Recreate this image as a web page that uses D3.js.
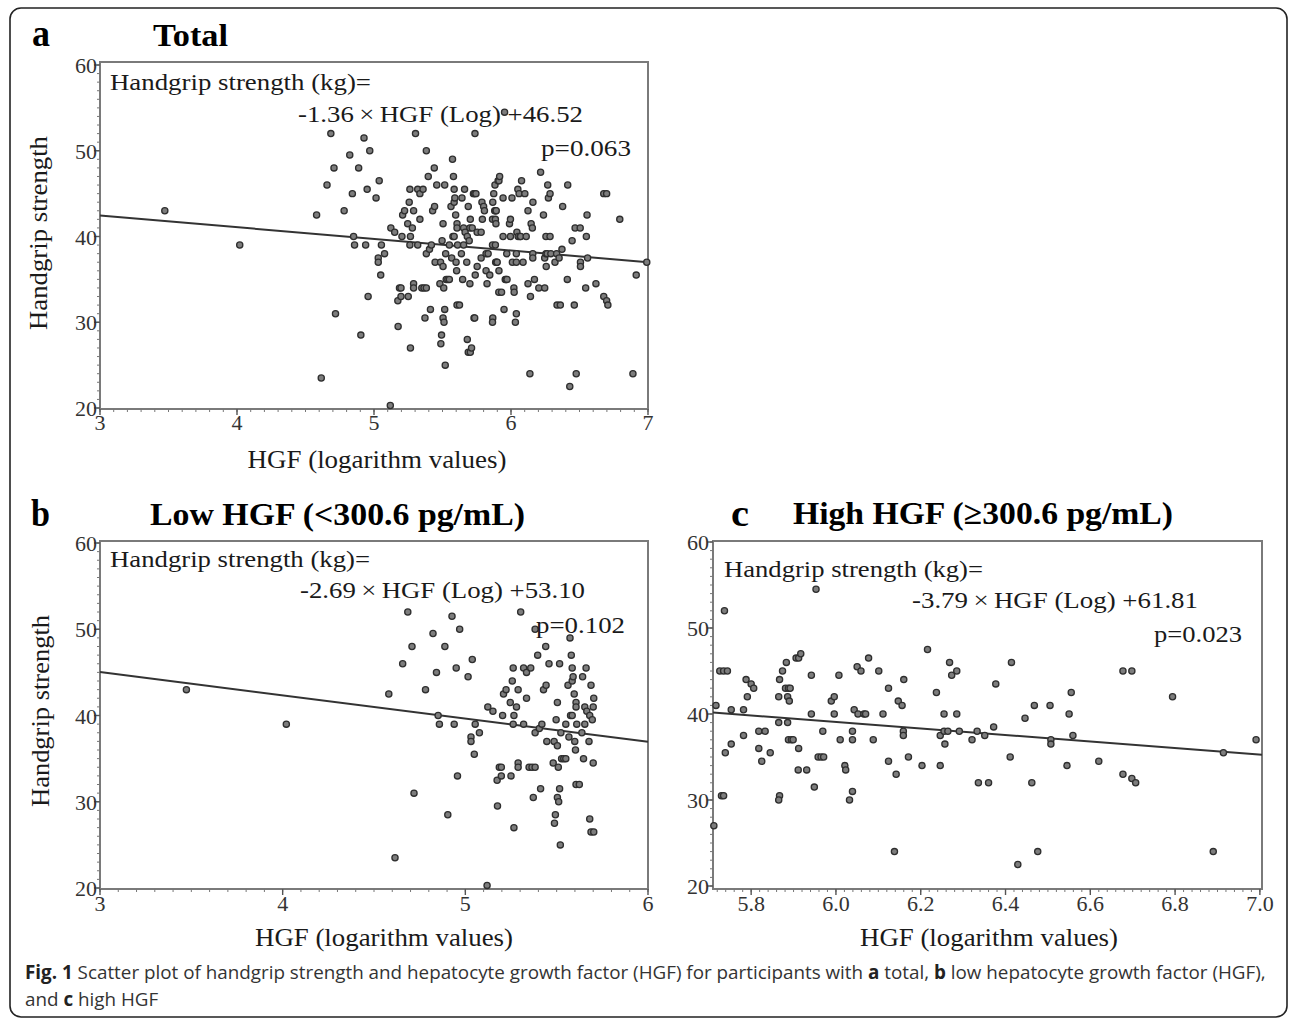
<!DOCTYPE html>
<html><head><meta charset="utf-8">
<script src="https://cdn.jsdelivr.net/npm/d3@7"></script>
<style>body{margin:0;background:#fff;} svg{display:block;}</style>
</head><body><svg id="fig" width="1290" height="1021"></svg>
<script>
// ---------- data ----------
const lowX = [3.473,4.02,4.581,4.615,4.657,4.685,4.708,4.719,4.782,4.823,
4.842,4.851,4.858,4.888,4.904,4.927,4.939,4.95,4.957,4.969,
5.015,5.031,5.031,5.038,5.049,5.054,5.077,5.119,5.123,5.151,
5.174,5.176,5.186,5.197,5.197,5.204,5.209,5.223,5.246,5.25,
5.257,5.262,5.262,5.266,5.266,5.28,5.289,5.289,5.289,5.303,
5.319,5.319,5.335,5.335,5.349,5.358,5.365,5.372,5.382,5.382,
5.382,5.396,5.405,5.412,5.419,5.428,5.44,5.442,5.446,5.458,
5.481,5.486,5.488,5.493,5.497,5.504,5.504,5.504,5.509,5.511,
5.516,5.516,5.52,5.523,5.527,5.539,5.55,5.55,5.562,5.567,
5.573,5.576,5.58,5.585,5.585,5.585,5.59,5.596,5.599,5.603,
5.606,5.606,5.606,5.624,5.61,5.638,5.642,5.647,5.654,5.654,
5.661,5.665,5.677,5.681,5.681,5.688,5.688,5.695,5.7,5.7,
5.703,5.703];
const lowY = [43,39,42.5,23.5,46,52,48,31,43,49.5,
45,40,39,48,28.5,51.5,39,45.5,33,50,
44.5,37.5,37,46.5,35.5,39,38,20.3,41,40.5,
32.5,29.5,34,34,33,40,42.5,43,41.5,33,
44,45.5,39,40,27,41,43,34.5,34,52,
39,45.5,45,42,34,45.5,34,30.5,38,34,
50,47,38.5,31.5,39,43,48,43.5,37,46,
34.5,37,27.5,28.5,39.5,41.5,36.5,30.5,34,30,
31.5,46,25,38,35,35,35,39,43.5,37.5,
49,40,47,45.5,44,40,44.5,42.5,37,36,
41.5,41,32,32,39,38,44.5,35,41,39,
45.5,40.5,37,40,28,43.5,26.5,39.5,34.5,41,
42,26.5];
const highX = [5.717,5.712,5.726,5.735,5.744,5.737,5.73,5.735,5.753,5.739,
5.753,5.782,5.782,5.788,5.791,5.8,5.806,5.818,5.833,5.818,
5.825,5.845,5.865,5.867,5.874,5.883,5.865,5.867,5.865,5.881,
5.888,5.892,5.886,5.89,5.886,5.888,5.895,5.899,5.912,5.906,
5.912,5.917,5.911,5.931,5.942,5.942,5.949,5.953,5.958,5.965,
5.971,5.969,5.989,5.996,5.996,6.007,6.01,6.021,6.023,6.032,
6.039,6.039,6.039,6.043,6.05,6.059,6.052,6.066,6.07,6.077,
6.088,6.101,6.111,6.124,6.124,6.142,6.138,6.147,6.156,6.16,
6.159,6.159,6.171,6.203,6.216,6.237,6.246,6.246,6.255,6.255,
6.257,6.264,6.268,6.273,6.285,6.285,6.291,6.321,6.333,6.336,
6.351,6.36,6.372,6.377,6.411,6.414,6.429,6.446,6.462,6.468,
6.476,6.505,6.507,6.507,6.545,6.55,6.555,6.559,6.62,6.677,
6.698,6.677,6.698,6.707,6.794,6.89,6.914,6.991];
const highY = [41,27,45,45,45,52,30.5,30.5,40.5,35.5,
36.5,40.5,37.5,44,42,43.5,43,38,38,36,
34.5,35.5,42,44,45,46,39,30.5,30,43,
43,43,42,41.5,39,37,37,37,36,46.5,
46.5,47,33.5,33.5,44.5,40,31.5,54.5,35,35,
35,38,41.5,42,40,44.5,37,34,33.5,30,
31,38,37,40.5,45.5,45,40,40,40,46.5,
37,45,40,43,34.5,33,24,41.5,41,44,
38,37.5,35,34,47.5,42.5,34,37.5,40,38,
36.5,38,46,44.5,45,40,38,37,38,32,
37.5,32,38.5,43.5,35,46,22.5,39.5,32,41,
24,41,37,36.5,34,40,42.5,37.5,34.5,45,
45,33,32.5,32,42,24,35.5,37];
const totalX = lowX.concat(highX);
const totalY = lowY.concat(highY);

const yTicks = [20,30,40,50,60];
const xTicksA = [3,4,5,6,7];
const xTicksB = [3,4,5,6];
const xTicksC = [5.8,6.0,6.2,6.4,6.6,6.8,7.0];
const slopes = [-1.36,-2.69,-3.79];
const intercepts = [46.52,53.10,61.81];
const pValues = ["0.063","0.102","0.023"];
const panelLetters = ["a","b","c"];
const panelTitles = ["Total","Low HGF (<300.6 pg/mL)","High HGF (\u2265300.6 pg/mL)"];
const xTitle = "HGF (logarithm values)";
const yTitle = "Handgrip strength";
const eqLead = "Handgrip strength (kg)=";

// ---------- layout ----------
const svg = d3.select("#fig");
const serif = "'Liberation Serif','Times New Roman',serif";
const txt = "#1a1a1a";

svg.append("rect").attr("x",10).attr("y",8).attr("width",1277).attr("height",1009)
  .attr("rx",11).attr("fill","none").attr("stroke","#222").attr("stroke-width",1.6);

const panels = [
 {i:0, x0:100, x1:648, y0:62, y1:409, yr:[408,65], dom:[3,7], ticks:xTicksA, minor:0.1, fmt:d3.format("d"),
  xs:totalX, ys:totalY,
  letter:{x:32, y:46, w:18}, title:{x:153, y:46, w:75},
  eq:[{x:110,y:90,w:261},{x:298,y:122,w:285},{x:541,y:156,w:90}],
  xt:{x:377, y:468, w:259}, yt:{x:47, y:233, w:194}, tickBase:430, ylabR:97},
 {i:1, x0:100, x1:648, y0:541, y1:889, yr:[888,543], dom:[3,6], ticks:xTicksB, minor:0.1, fmt:d3.format("d"),
  xs:lowX, ys:lowY,
  letter:{x:31, y:526, w:19}, title:{x:150, y:525, w:375},
  eq:[{x:110,y:567,w:260},{x:300,y:598,w:285},{x:536,y:633,w:89}],
  xt:{x:384, y:946, w:258}, yt:{x:49, y:711, w:192}, tickBase:911, ylabR:97},
 {i:2, x0:713, x1:1262, y0:541, y1:889, yr:[886,542], dom:[5.71,7.005], ticks:xTicksC, minor:0.02, fmt:d3.format(".1f"),
  xs:highX, ys:highY,
  letter:{x:731, y:526, w:18}, title:{x:793, y:524, w:380},
  eq:[{x:724,y:577,w:259},{x:912,y:608,w:286},{x:1154,y:642,w:88}],
  xt:{x:989, y:946, w:258}, yt:null, tickBase:911, ylabR:709}
];

panels.forEach(p => {
  const x = d3.scaleLinear().domain(p.dom).range([p.x0, p.x1]);
  const y = d3.scaleLinear().domain([20,60]).range(p.yr);
  const g = svg.append("g");

  g.append("rect").attr("x",p.x0).attr("y",p.y0).attr("width",p.x1-p.x0).attr("height",p.y1-p.y0)
    .attr("fill","none").attr("stroke","#7a7a7a").attr("stroke-width",2);

  const minors = d3.range(Math.ceil(p.dom[0]/p.minor-1e-6)*p.minor, p.dom[1]+1e-9, p.minor);
  g.selectAll(null).data(minors).join("line")
    .attr("x1",d=>x(d)).attr("x2",d=>x(d)).attr("y1",p.y1).attr("y2",p.y1+3)
    .attr("stroke","#777").attr("stroke-width",1);
  g.selectAll(null).data(d3.range(20,61,1)).join("line")
    .attr("x1",p.x0-3).attr("x2",p.x0).attr("y1",d=>y(d)).attr("y2",d=>y(d))
    .attr("stroke","#777").attr("stroke-width",1);
  g.selectAll(null).data(p.ticks).join("line")
    .attr("x1",d=>x(d)).attr("x2",d=>x(d)).attr("y1",p.y1).attr("y2",p.y1+6)
    .attr("stroke","#555").attr("stroke-width",1.4);
  g.selectAll(null).data(yTicks).join("line")
    .attr("x1",p.x0-6).attr("x2",p.x0).attr("y1",d=>y(d)).attr("y2",d=>y(d))
    .attr("stroke","#555").attr("stroke-width",1.4);

  g.selectAll(null).data(p.ticks).join("text")
    .attr("x",d=>x(d)).attr("y",p.tickBase).attr("text-anchor","middle")
    .attr("font-family",serif).attr("font-size",22).attr("fill","#333")
    .text(d=>p.fmt(d));
  g.selectAll(null).data(yTicks).join("text")
    .attr("x",p.ylabR).attr("y",d=>y(d)+8).attr("text-anchor","end")
    .attr("font-family",serif).attr("font-size",22).attr("fill","#333")
    .text(d=>d);

  const lineData = p.dom.map(v => [v, slopes[p.i]*v + intercepts[p.i]]);
  g.append("path").datum(lineData)
    .attr("d", d3.line().x(d=>x(d[0])).y(d=>y(d[1])))
    .attr("stroke","#333").attr("stroke-width",2).attr("fill","none");

  const pts = p.xs.map((v,k)=>[v,p.ys[k]]);
  g.selectAll(null).data(pts).join("circle")
    .attr("cx",d=>x(d[0])).attr("cy",d=>y(d[1])).attr("r",3.1)
    .attr("fill","#7d7d7d").attr("stroke","#2e2e2e").attr("stroke-width",1.3);

  const eqTexts = [eqLead,
    `${slopes[p.i].toFixed(2)}\u2009\u00d7\u2009HGF (Log) +${intercepts[p.i].toFixed(2)}`,
    `p=${pValues[p.i]}`];
  eqTexts.forEach((t,k) => {
    g.append("text").attr("x",p.eq[k].x).attr("y",p.eq[k].y)
      .attr("font-family",serif).attr("font-size",24).attr("fill",txt)
      .attr("textLength",p.eq[k].w).attr("lengthAdjust","spacingAndGlyphs")
      .text(t);
  });

  g.append("text").attr("x",p.letter.x).attr("y",p.letter.y)
    .attr("font-family",serif).attr("font-weight","bold").attr("font-size",38).attr("fill","#000")
    .attr("textLength",p.letter.w).attr("lengthAdjust","spacingAndGlyphs")
    .text(panelLetters[p.i]);
  g.append("text").attr("x",p.title.x).attr("y",p.title.y)
    .attr("font-family",serif).attr("font-weight","bold").attr("font-size",32).attr("fill","#000")
    .attr("textLength",p.title.w).attr("lengthAdjust","spacingAndGlyphs")
    .text(panelTitles[p.i]);

  g.append("text").attr("x",p.xt.x - p.xt.w/2).attr("y",p.xt.y)
    .attr("font-family",serif).attr("font-size",25).attr("fill",txt)
    .attr("textLength",p.xt.w).attr("lengthAdjust","spacingAndGlyphs")
    .text(xTitle);
  if (p.yt) {
    g.append("text").attr("transform",`translate(${p.yt.x},${p.yt.y}) rotate(-90)`)
      .attr("x",-p.yt.w/2).attr("y",0)
      .attr("font-family",serif).attr("font-size",25).attr("fill",txt)
      .attr("textLength",p.yt.w).attr("lengthAdjust","spacingAndGlyphs")
      .text(yTitle);
  }
});

// ---------- caption ----------
const sans = "'Open Sans','Noto Sans',sans-serif";
const cap = svg.append("g").attr("font-family",sans).attr("font-size",19).attr("fill","#333");
const l1 = cap.append("text").attr("x",25).attr("y",979);
l1.append("tspan").attr("font-weight","bold").attr("fill","#222").text("Fig. 1");
l1.append("tspan").text(" Scatter plot of handgrip strength and hepatocyte growth factor (HGF) for participants with ");
l1.append("tspan").attr("font-weight","bold").attr("fill","#222").text("a");
l1.append("tspan").text(" total, ");
l1.append("tspan").attr("font-weight","bold").attr("fill","#222").text("b");
l1.append("tspan").text(" low hepatocyte growth factor (HGF),");
const l2 = cap.append("text").attr("x",25).attr("y",1006);
l2.append("tspan").text("and ");
l2.append("tspan").attr("font-weight","bold").attr("fill","#222").text("c");
l2.append("tspan").text(" high HGF");
const natural = l1.node().getComputedTextLength();
const sx = 1241 / natural;
[l1,l2].forEach(t => t.attr("x",0).attr("transform",`translate(25,0) scale(${sx},1)`));
</script>
</body></html>
